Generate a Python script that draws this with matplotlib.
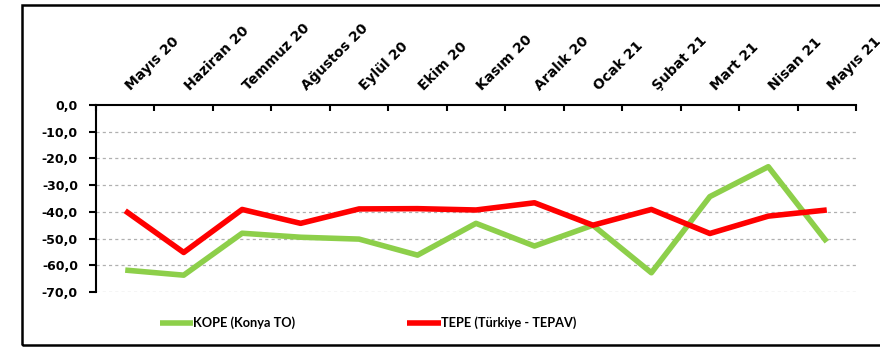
import matplotlib
matplotlib.use("Agg")
import matplotlib.pyplot as plt
import matplotlib.transforms as mtransforms
from matplotlib.patches import Rectangle

months = ["Mayıs 20", "Haziran 20", "Temmuz 20", "Ağustos 20", "Eylül 20", "Ekim 20",
          "Kasım 20", "Aralık 20", "Ocak 21", "Şubat 21", "Mart 21", "Nisan 21", "Mayıs 21"]
kope = [-61.8, -63.7, -48.0, -49.5, -50.2, -56.2, -44.3, -52.8, -45.0, -62.8, -34.3, -23.1, -51.2]
tepe = [-39.6, -55.2, -39.1, -44.3, -38.9, -38.8, -39.3, -36.6, -45.0, -39.1, -48.1, -41.6, -39.3]
yticks = [0, -10, -20, -30, -40, -50, -60, -70]

plt.rcParams['font.family'] = ['DejaVu Sans']
plt.rcParams['font.weight'] = 'bold'

fig = plt.figure(figsize=(8.8, 3.49), dpi=100)
ax = fig.add_axes([96/880, 1 - 292/349, 760/880, 187/349])

x = range(len(months))
ax.plot(x, kope, color='#8DCF4A', linewidth=4.0, label="KOPE (Konya TO)", solid_capstyle='butt')
ax.plot(x, tepe, color='#FF0000', linewidth=4.0, label="TEPE (Türkiye - TEPAV)", solid_capstyle='butt')

ax.set_xlim(-0.5, len(months) - 0.5)
ax.set_ylim(-70, 0)

# x axis sits on top: boundary ticks inward, labels at category centres
ax.set_xticks([i - 0.5 for i in range(len(months) + 1)])
ax.set_xticklabels([])
ax.set_xticks(list(x), minor=True)
ax.set_xticklabels(months, minor=True, rotation=45, ha='left', va='baseline',
                   rotation_mode='anchor', fontsize=10, fontweight='bold')
ax.tick_params(axis='x', which='major', top=True, bottom=False, labeltop=False, labelbottom=False,
               direction='in', length=4, width=1.5)
ax.tick_params(axis='x', which='minor', top=False, bottom=False, labeltop=True, labelbottom=False,
               length=0, pad=10)
shift = mtransforms.ScaledTranslation(6/100, 0, fig.dpi_scale_trans)
for t in ax.xaxis.get_minor_ticks():
    t.label2.set_transform(t.label2.get_transform() + shift)

ax.set_yticks(yticks)
ax.set_yticklabels([f"{v:.1f}".replace('.', ',') for v in yticks], fontsize=9, fontweight='bold')
ax.tick_params(axis='y', direction='out', length=5, width=1.5, pad=8)

for y in yticks[1:]:
    ax.axhline(y, color='#B0B0B0', linewidth=0.9, linestyle=(0, (2.5, 2.5)), zorder=0)

ax.spines['bottom'].set_visible(False)
ax.spines['right'].set_visible(False)
ax.spines['top'].set_linewidth(1.5)
ax.spines['left'].set_linewidth(1.5)

fig.legend(loc='center', bbox_to_anchor=(0.418, 1 - 323/349), ncol=2, frameon=False,
           prop={'family': 'Lato', 'weight': 'bold', 'size': 9.2},
           handlelength=2.6, handletextpad=0.0, columnspacing=8.8)

fig.patches.append(Rectangle((22/880, 1 - 345/349), 1.0, (345 - 5)/349, transform=fig.transFigure,
                             fill=False, edgecolor='black', linewidth=1.8, clip_on=False))

fig.savefig("out.png", dpi=100)
